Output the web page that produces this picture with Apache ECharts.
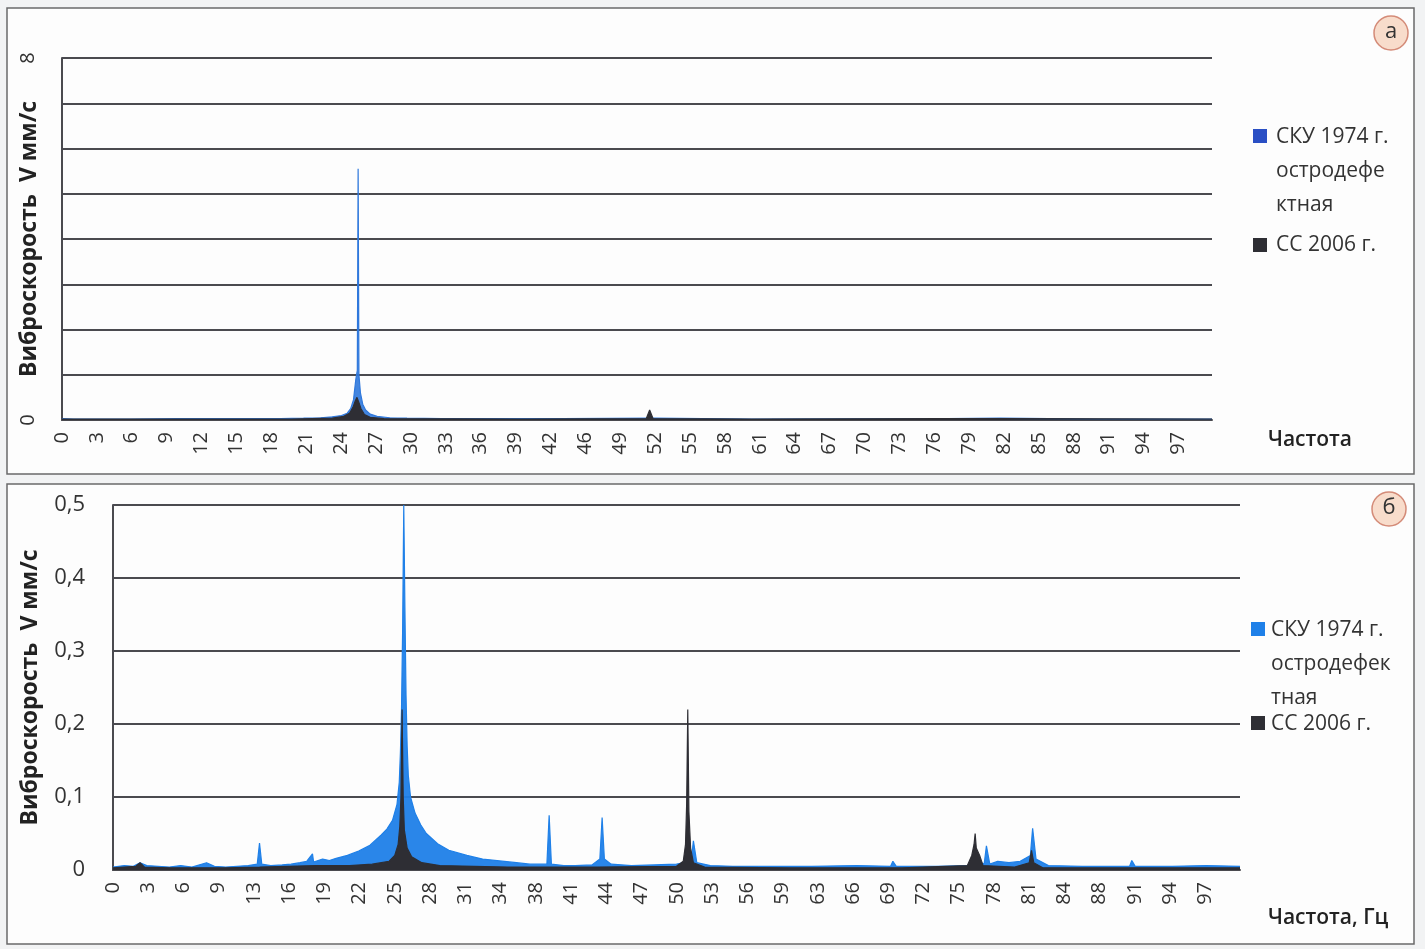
<!DOCTYPE html>
<html>
<head>
<meta charset="utf-8">
<script src="https://cdn.jsdelivr.net/npm/echarts@6/dist/echarts.min.js"></script>
<style>
html,body{margin:0;padding:0;background:#f2f3f4;}
#chart{width:1425px;height:949px;}
</style>
</head>
<body>
<div id="chart"></div>
<script>
// ---- Panel (a) ----
var xTickLabelsA = ['0','3','6','9','12','15','18','21','24','27','30','33','36','39','42','46','49','52','55','58','61','64','67','70','73','76','79','82','85','88','91','94','97'];
var xStepA = 3.034;
var yTickLabelsA = ['0','','','','','','','','8'];
// [frequency Hz, V mm/s]
var skuA = [[0,0.03],[1,0.02],[3,0.02],[6,0.02],[10,0.03],[13,0.03],[16,0.03],[19,0.03],[21,0.04],[22.5,0.05],[23.5,0.07],[24.3,0.1],[24.8,0.15],[25.1,0.25],[25.35,0.45],[25.55,0.9],[25.68,1.1],[25.75,5.55],[25.82,1.0],[25.95,0.6],[26.15,0.35],[26.4,0.22],[26.8,0.13],[27.4,0.08],[28.5,0.05],[30,0.04],[33,0.03],[38.7,0.03],[38.8,0.07],[38.9,0.03],[43.3,0.03],[43.4,0.07],[43.5,0.03],[51.5,0.04],[60,0.02],[77,0.03],[81.6,0.04],[90,0.02],[100,0.02]];
var ssA = [[0,0.02],[10,0.02],[20,0.02],[23.5,0.04],[24.5,0.08],[25.0,0.15],[25.3,0.28],[25.5,0.42],[25.65,0.5],[25.8,0.4],[26.0,0.25],[26.3,0.12],[26.8,0.06],[28,0.03],[40,0.02],[50.8,0.03],[51.1,0.22],[51.4,0.03],[60,0.02],[76.5,0.03],[81.6,0.03],[100,0.02]];

// ---- Panel (б) ----
var xTickLabelsB = ['0','3','6','9','13','16','19','22','25','28','31','34','38','41','44','47','50','53','56','59','63','66','69','72','75','78','81','84','88','91','94','97'];
var xStepB = 3.127;
var yTickLabelsB = ['0','0,1','0,2','0,3','0,4','0,5'];
var skuB = [[0,0.004],[1,0.006],[1.8,0.005],[2.4,0.01],[3,0.006],[4,0.005],[5,0.004],[6,0.006],[7,0.004],[8.3,0.01],[9,0.005],[10,0.004],[11,0.005],[12,0.006],[12.8,0.008],[13.0,0.037],[13.2,0.008],[14,0.006],[15,0.007],[15.8,0.008],[16.6,0.01],[17.2,0.012],[17.7,0.022],[17.8,0.011],[18.6,0.015],[19.2,0.013],[19.8,0.016],[20.8,0.02],[21.8,0.026],[22.8,0.034],[23.8,0.048],[24.3,0.056],[24.8,0.068],[25.2,0.09],[25.4,0.12],[25.5,0.16],[25.6,0.22],[25.7,0.33],[25.8,0.5],[25.9,0.36],[26.0,0.24],[26.1,0.17],[26.2,0.13],[26.4,0.1],[26.8,0.078],[27.3,0.062],[27.8,0.05],[28.8,0.036],[29.8,0.027],[31.4,0.02],[32.8,0.015],[35.8,0.01],[37,0.008],[38.5,0.008],[38.7,0.075],[38.9,0.008],[40,0.006],[41,0.006],[42.5,0.007],[43.2,0.015],[43.4,0.072],[43.6,0.015],[44.2,0.008],[46,0.006],[48,0.007],[50,0.008],[51.3,0.012],[51.5,0.04],[51.8,0.01],[53,0.006],[55,0.005],[58,0.005],[62,0.005],[66,0.006],[69.0,0.005],[69.2,0.012],[69.5,0.005],[73,0.005],[76,0.006],[76.5,0.015],[77.3,0.008],[77.5,0.033],[77.8,0.008],[78.5,0.012],[79.5,0.01],[80.5,0.012],[81.4,0.02],[81.6,0.057],[81.9,0.015],[83,0.006],[86,0.005],[90.2,0.005],[90.4,0.013],[90.7,0.005],[94,0.005],[97,0.006],[100,0.005]];
var ssB = [[0,0.003],[2,0.005],[2.4,0.01],[2.8,0.004],[5,0.003],[10,0.003],[13,0.004],[18,0.006],[21,0.006],[23,0.008],[24.5,0.012],[25.0,0.02],[25.3,0.035],[25.45,0.06],[25.55,0.1],[25.65,0.22],[25.75,0.1],[25.85,0.055],[26.1,0.03],[26.5,0.018],[27.4,0.01],[29,0.006],[35,0.004],[43,0.004],[50,0.005],[50.6,0.012],[50.8,0.035],[50.9,0.09],[51.0,0.22],[51.1,0.08],[51.25,0.03],[51.5,0.01],[52.5,0.004],[60,0.003],[70,0.003],[75.8,0.006],[76.2,0.02],[76.4,0.035],[76.5,0.05],[76.6,0.03],[76.9,0.02],[77.2,0.006],[80,0.004],[81.3,0.01],[81.5,0.027],[81.7,0.01],[82.5,0.003],[90,0.003],[100,0.003]];

var seriesNames = ['СКУ 1974 г. остродефектная', 'СС 2006 г.'];
var panelLabels = ['а', 'б'];
var axisNamesX = ['Частота', 'Частота, Гц'];
var axisNameY = 'Виброскорость  V мм/с';

var FONT = '"Open Sans", "Noto Sans", sans-serif';
var GRID_COLOR = '#4a4a4f';
var BLUE_A = '#2f78dc';
var BLUE_B = '#1f80e8';
var DARK = '#2e2e34';

var chart = echarts.init(document.getElementById('chart'), null, {renderer: 'canvas'});

function xLabelFmt(labels, step) {
  return function (v) {
    var i = Math.round(v / step);
    if (Math.abs(v - i * step) > step * 0.2) return '';
    return labels[i] !== undefined ? labels[i] : '';
  };
}

var option = {
  backgroundColor: '#f2f3f4',
  animation: false,
  grid: [
    {left: 62, right: 213, top: 58, bottom: 529},
    {left: 113, right: 185, top: 505, bottom: 79}
  ],
  xAxis: [
    {
      type: 'value', gridIndex: 0, min: 0, max: 100, interval: xStepA,
      axisLine: {show: true, onZero: false, lineStyle: {color: GRID_COLOR, width: 2}},
      axisTick: {show: false},
      splitLine: {show: false},
      axisLabel: {rotate: 90, margin: 12, fontSize: 20, color: '#333', fontFamily: FONT,
        showMaxLabel: false, formatter: xLabelFmt(xTickLabelsA, xStepA)}
    },
    {
      type: 'value', gridIndex: 1, min: 0, max: 100, interval: xStepB,
      axisLine: {show: true, onZero: false, lineStyle: {color: GRID_COLOR, width: 2}},
      axisTick: {show: false},
      splitLine: {show: false},
      axisLabel: {rotate: 90, margin: 12, fontSize: 20, color: '#333', fontFamily: FONT,
        showMaxLabel: false, formatter: xLabelFmt(xTickLabelsB, xStepB)}
    }
  ],
  yAxis: [
    {
      type: 'value', gridIndex: 0, min: 0, max: 8, interval: 1,
      axisLine: {show: true, lineStyle: {color: GRID_COLOR, width: 2}},
      axisTick: {show: false},
      splitLine: {show: true, lineStyle: {color: GRID_COLOR, width: 2}},
      axisLabel: {rotate: 90, margin: 24, fontSize: 20, color: '#333', fontFamily: FONT,
        formatter: function (v) { var i = Math.round(v); return yTickLabelsA[i] || ''; }},
      name: axisNameY, nameLocation: 'middle', nameGap: 21, nameRotate: 90,
      nameMoveOverlap: false,
      nameTextStyle: {fontSize: 23, fontWeight: 'bold', color: '#222', fontFamily: FONT}
    },
    {
      type: 'value', gridIndex: 1, min: 0, max: 0.5, interval: 0.1,
      axisLine: {show: true, lineStyle: {color: GRID_COLOR, width: 2}},
      axisTick: {show: false},
      splitLine: {show: true, lineStyle: {color: GRID_COLOR, width: 2}},
      axisLabel: {margin: 28, fontSize: 22, color: '#333', fontFamily: FONT,
        formatter: function (v) { var i = Math.round(v * 10); return yTickLabelsB[i] || ''; }},
      name: axisNameY, nameLocation: 'middle', nameGap: 71, nameRotate: 90,
      nameMoveOverlap: false,
      nameTextStyle: {fontSize: 23, fontWeight: 'bold', color: '#222', fontFamily: FONT}
    }
  ],
  series: [
    {name: seriesNames[0], type: 'line', xAxisIndex: 0, yAxisIndex: 0, data: skuA, showSymbol: false,
      lineStyle: {color: BLUE_A, width: 1.2}, areaStyle: {color: BLUE_A, opacity: 0.9}, itemStyle: {color: BLUE_A}, z: 2},
    {name: seriesNames[1], type: 'line', xAxisIndex: 0, yAxisIndex: 0, data: ssA, showSymbol: false,
      lineStyle: {color: DARK, width: 1.2}, areaStyle: {color: DARK, opacity: 1}, itemStyle: {color: DARK}, z: 3},
    {name: seriesNames[0], type: 'line', xAxisIndex: 1, yAxisIndex: 1, data: skuB, showSymbol: false,
      lineStyle: {color: BLUE_B, width: 1.2}, areaStyle: {color: BLUE_B, opacity: 0.95}, itemStyle: {color: BLUE_B}, z: 2},
    {name: seriesNames[1], type: 'line', xAxisIndex: 1, yAxisIndex: 1, data: ssB, showSymbol: false,
      lineStyle: {color: DARK, width: 1.2}, areaStyle: {color: DARK, opacity: 1}, itemStyle: {color: DARK}, z: 3}
  ],
  graphic: [
    // panel frames
    {type: 'rect', z: -10, silent: true, shape: {x: 7, y: 8, width: 1407, height: 466},
      style: {fill: '#fdfdfd', stroke: '#6a6a6a', lineWidth: 1.5}},
    {type: 'rect', z: -10, silent: true, shape: {x: 7, y: 484, width: 1407, height: 460},
      style: {fill: '#fdfdfd', stroke: '#6a6a6a', lineWidth: 1.5}},
    // x axis names
    {type: 'text', style: {text: axisNamesX[0], x: 1268, y: 440, verticalAlign: 'middle', font: '600 21px "Open Sans", sans-serif', fill: '#222'}},
    {type: 'text', style: {text: axisNamesX[1], x: 1268, y: 918, verticalAlign: 'middle', font: '600 21px "Open Sans", sans-serif', fill: '#222'}},
    // panel labels
    {type: 'circle', shape: {cx: 1391, cy: 33, r: 17}, style: {fill: '#f8dccb', stroke: '#d48b78', lineWidth: 1.5}},
    {type: 'text', style: {text: panelLabels[0], x: 1391, y: 32, align: 'center', verticalAlign: 'middle', font: '22px "Open Sans", sans-serif', fill: '#333'}},
    {type: 'circle', shape: {cx: 1389, cy: 509, r: 17}, style: {fill: '#f8dccb', stroke: '#d48b78', lineWidth: 1.5}},
    {type: 'text', style: {text: panelLabels[1], x: 1389, y: 508, align: 'center', verticalAlign: 'middle', font: '22px "Open Sans", sans-serif', fill: '#333'}},
    // legend (a)
    {type: 'rect', shape: {x: 1253, y: 129, width: 14, height: 14}, style: {fill: '#2a4fc4'}},
    {type: 'text', style: {text: 'СКУ 1974 г.\nостродефе\nктная', x: 1276, y: 120, lineHeight: 34, verticalAlign: 'top', font: '21px "Open Sans", sans-serif', fill: '#333'}},
    {type: 'rect', shape: {x: 1253, y: 238, width: 14, height: 14}, style: {fill: DARK}},
    {type: 'text', style: {text: 'СС 2006 г.', x: 1276, y: 245, verticalAlign: 'middle', font: '21px "Open Sans", sans-serif', fill: '#333'}},
    // legend (б)
    {type: 'rect', shape: {x: 1251, y: 622, width: 14, height: 14}, style: {fill: BLUE_B}},
    {type: 'text', style: {text: 'СКУ 1974 г.\nостродефек\nтная', x: 1271, y: 613, lineHeight: 34, verticalAlign: 'top', font: '21px "Open Sans", sans-serif', fill: '#333'}},
    {type: 'rect', shape: {x: 1251, y: 716, width: 14, height: 14}, style: {fill: DARK}},
    {type: 'text', style: {text: 'СС 2006 г.', x: 1271, y: 724, verticalAlign: 'middle', font: '21px "Open Sans", sans-serif', fill: '#333'}}
  ]
};
chart.setOption(option);
</script>
</body>
</html>
